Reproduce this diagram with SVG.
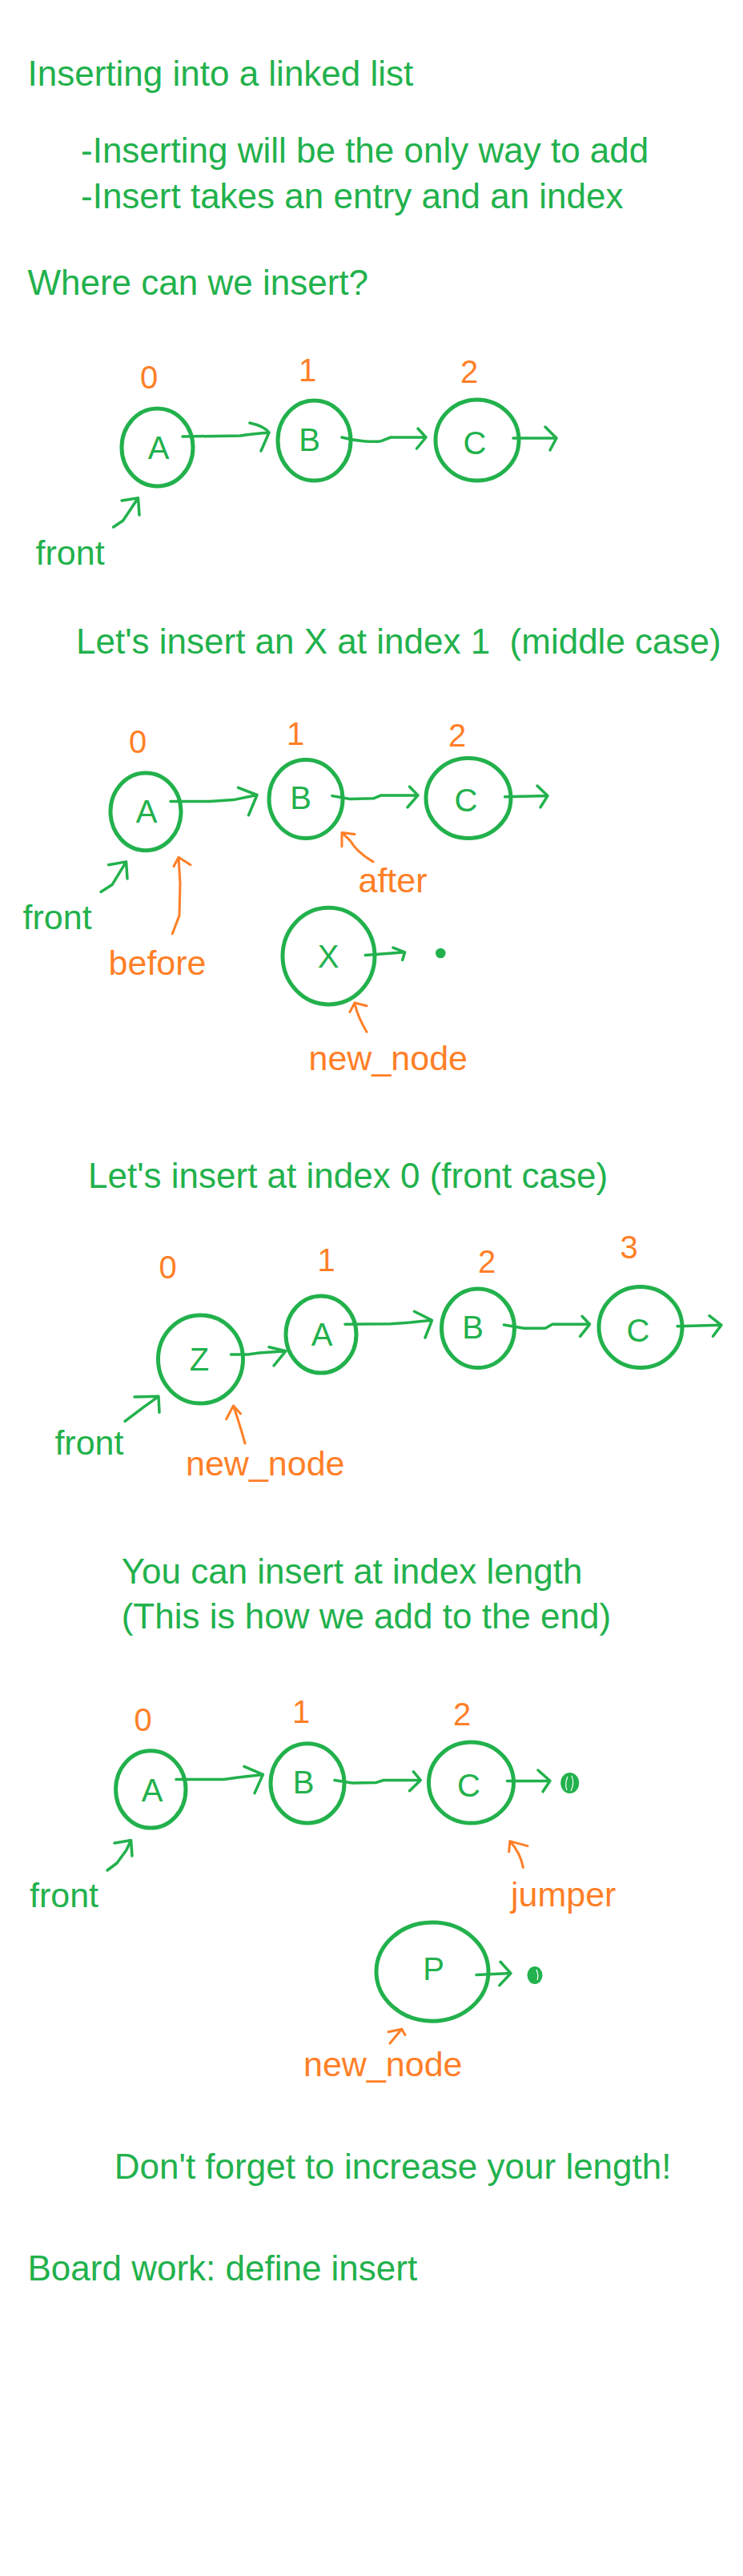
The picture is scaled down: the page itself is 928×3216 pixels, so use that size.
<svg xmlns="http://www.w3.org/2000/svg" width="928" height="3216" viewBox="0 0 928 3216">
<style>
text{font-family:"Liberation Sans",Arial,sans-serif}
.t{font-size:44px;fill:#22B14C}
.lg{font-size:43px;fill:#22B14C}
.lo{font-size:43px;fill:#FF7F27}
.idx{font-size:40px;fill:#FF7F27;text-anchor:middle}
.nl{font-size:40px;fill:#22B14C;text-anchor:middle}
.node ellipse{fill:none;stroke:#22B14C;stroke-width:5}
.g{fill:none;stroke:#22B14C;stroke-width:3.5;stroke-linecap:round;stroke-linejoin:round}
.o{fill:none;stroke:#FF7F27;stroke-width:3;stroke-linecap:round;stroke-linejoin:round}
.dot{fill:#22B14C}
.w{fill:none;stroke:#fff;stroke-width:1.2}
</style>
<rect width="928" height="3216" fill="#fff"/>

<g id="texts">
<text class="t" x="34.5" y="107">Inserting into a linked list</text>
<text class="t" x="101" y="203">-Inserting will be the only way to add</text>
<text class="t" x="101" y="260">-Insert takes an entry and an index</text>
<text class="t" x="34.5" y="368">Where can we insert?</text>
<text class="t" x="95" y="816" xml:space="preserve">Let's insert an X at index 1  (middle case)</text>
<text class="t" x="110" y="1483">Let's insert at index 0 (front case)</text>
<text class="t" x="151.7" y="1977">You can insert at index length</text>
<text class="t" x="151.7" y="2033">(This is how we add to the end)</text>
<text class="t" x="142.8" y="2720">Don't forget to increase your length!</text>
<text class="t" x="34.5" y="2847">Board work: define insert</text>
</g>

<!-- Section 1 -->
<g id="s1-A" class="node"><text class="idx" x="186" y="485">0</text><ellipse cx="196.5" cy="558.5" rx="44.5" ry="48.5"/><text class="nl" x="198" y="573">A</text></g>
<g id="s1-B" class="node"><text class="idx" x="384" y="476">1</text><ellipse cx="392.5" cy="550" rx="45.5" ry="50"/><text class="nl" x="386.5" y="563">B</text></g>
<g id="s1-C" class="node"><text class="idx" x="586" y="478">2</text><ellipse cx="596" cy="549.5" rx="52" ry="50.5"/><text class="nl" x="593" y="567">C</text></g>
<g id="s1-front"><text class="lg" x="44.6" y="705">front</text></g>

<!-- Section 2 -->
<g id="s2-A" class="node"><text class="idx" x="172" y="940">0</text><ellipse cx="182" cy="1013.3" rx="44" ry="48.4"/><text class="nl" x="183" y="1027">A</text></g>
<g id="s2-B" class="node"><text class="idx" x="369" y="930">1</text><ellipse cx="382" cy="997.5" rx="46" ry="49"/><text class="nl" x="375.5" y="1010">B</text></g>
<g id="s2-C" class="node"><text class="idx" x="571" y="932">2</text><ellipse cx="585" cy="996.5" rx="53" ry="50"/><text class="nl" x="582" y="1013">C</text></g>
<g id="s2-X" class="node"><ellipse cx="410.5" cy="1193.6" rx="57.5" ry="60.3"/><text class="nl" x="410" y="1208">X</text></g>
<g id="s2-null"><circle class="dot" cx="550.3" cy="1190" r="6.3"/></g>
<g id="s2-front"><text class="lg" x="28.6" y="1160">front</text></g>
<g id="s2-before"><text class="lo" x="135.6" y="1217">before</text></g>
<g id="s2-after"><text class="lo" x="447.5" y="1114">after</text></g>
<g id="s2-new_node"><text class="lo" x="385.5" y="1336">new_node</text></g>

<!-- Section 3 -->
<g id="s3-Z" class="node"><text class="idx" x="209.5" y="1596">0</text><ellipse cx="250.5" cy="1697" rx="53" ry="55"/><text class="nl" x="249" y="1711">Z</text></g>
<g id="s3-A" class="node"><text class="idx" x="407.5" y="1587">1</text><ellipse cx="401" cy="1666" rx="44" ry="48"/><text class="nl" x="402" y="1680">A</text></g>
<g id="s3-B" class="node"><text class="idx" x="608" y="1589">2</text><ellipse cx="597" cy="1658.3" rx="45.5" ry="49.3"/><text class="nl" x="590.5" y="1671">B</text></g>
<g id="s3-C" class="node"><text class="idx" x="785.7" y="1571">3</text><ellipse cx="800" cy="1657" rx="52" ry="50.5"/><text class="nl" x="797" y="1675">C</text></g>
<g id="s3-front"><text class="lg" x="68.4" y="1816">front</text></g>
<g id="s3-new_node"><text class="lo" x="232" y="1842">new_node</text></g>

<!-- Section 4 -->
<g id="s4-A" class="node"><text class="idx" x="178.5" y="2161">0</text><ellipse cx="188.3" cy="2233.9" rx="43.7" ry="48.2"/><text class="nl" x="190" y="2248.6">A</text></g>
<g id="s4-B" class="node"><text class="idx" x="376" y="2151">1</text><ellipse cx="384" cy="2226.4" rx="46" ry="49.6"/><text class="nl" x="379" y="2238.6">B</text></g>
<g id="s4-C" class="node"><text class="idx" x="577" y="2154">2</text><ellipse cx="588.5" cy="2225.6" rx="53" ry="50.5"/><text class="nl" x="585.5" y="2243">C</text></g>
<g id="s4-P" class="node"><ellipse cx="540" cy="2461.6" rx="70" ry="61.6"/><text class="nl" x="541.6" y="2472">P</text></g>
<g id="s4-null1"><ellipse class="dot" cx="711.7" cy="2226" rx="11.5" ry="13"/><path class="w" d="M709,2218 Q705,2228 708,2235 M714,2217 Q718,2226 713,2236"/></g>
<g id="s4-null2"><ellipse class="dot" cx="668" cy="2466" rx="9.5" ry="11"/><path class="w" d="M670,2459 Q673,2466 671,2472"/></g>
<g id="s4-front"><text class="lg" x="37" y="2381">front</text></g>
<g id="s4-jumper"><text class="lo" x="638" y="2380">jumper</text></g>
<g id="s4-new_node"><text class="lo" x="379" y="2592">new_node</text></g>

<g id="connectors">
<!-- section 1 -->
<path class="g" d="M228,545 L300,544 Q312,542 336,540 M312,528 Q330,532 336,540 L326,563"/>
<path class="g" d="M427,546 C445,551 465,552 476,550.7 L488,546 L532,546 M522,535 L532,546 L520.5,560"/>
<path class="g" d="M641,547 L695,546.7 M681,533 L695,547 L687,562"/>
<path class="g" d="M141.6,658 L153.6,650 L172.5,621.7 M152,625 L172.5,621.7 L174,643"/>
<!-- section 2 -->
<path class="g" d="M213,1000.5 L262,1000.5 L291.5,998.6 L321,992.5 M297.5,983.3 L321,992.5 L310.5,1017.7"/>
<path class="g" d="M415,993.6 L437,997.5 L467,996.7 L476,992.9 L522,992.9 M511.6,982.2 L522,992.9 L509,1007.8"/>
<path class="g" d="M630.6,994.8 L684,993.6 M671,981 L684,993.6 L675,1007.8"/>
<path class="g" d="M456.3,1192.6 L505.6,1188.8 M491,1183.1 L505.6,1188.8 L502.7,1198.4"/>
<path class="g" d="M126,1113.4 L140,1104.6 L157.6,1075.9 M135.6,1079.7 L157.6,1075.9 L159,1097"/>
<path class="o" d="M215.3,1165.8 L224,1142.9 L225,1102.7 L223,1070.2 M217,1081.7 L223,1070.2 L238,1079.7"/>
<path class="o" d="M466,1075.9 Q446,1064.4 437,1049.1 L427,1039.6 M427,1056.8 L427,1039.6 L443,1041.5"/>
<path class="o" d="M458,1288.3 Q447,1270 443,1253 M437,1263.4 L443,1252 L458,1255.8"/>
<!-- section 3 -->
<path class="g" d="M288.5,1691 L309.4,1691 L324,1689 L357,1686.7 M336,1681.7 L357,1686.7 L342,1705"/>
<path class="g" d="M431,1653.3 L488,1652.7 L512,1651 L539.5,1648.3 M517.5,1637.3 L539.5,1648.3 L531,1670"/>
<path class="g" d="M629.4,1654 L654.4,1658.3 L681,1658.3 L690,1653.3 L736.5,1653.3 M727,1643.3 L736.5,1653.3 L724.6,1668.3"/>
<path class="g" d="M846,1655.7 L901,1654.3 M886,1642.7 L901,1654.3 L890.5,1668.3"/>
<path class="g" d="M156,1774.3 L178.5,1757.3 L198,1743.3 M168,1744 L198,1743.3 L199,1763.3"/>
<path class="o" d="M306,1802 Q300,1780 291.5,1755 M282.6,1771.7 L291.5,1755 L300.5,1765"/>
<!-- section 4 -->
<path class="g" d="M220,2221.4 L279.6,2221.4 L297.5,2218.9 L328.4,2215.4 M305,2205.4 L328.4,2215.4 L318,2238.6"/>
<path class="g" d="M418,2222.5 L440,2226.1 L470,2225.4 L479,2222.5 L525.3,2222.5 M516.4,2211.8 L525.3,2222.5 L511.6,2235.7"/>
<path class="g" d="M633.5,2223.6 L687,2223.2 M672,2210 L687,2223.2 L678,2236.8"/>
<path class="g" d="M595,2465.4 L638,2463.6 M625,2449.3 L638,2463.6 L623.8,2478.6"/>
<path class="g" d="M134,2335 L146,2326 L157.7,2310 L163.6,2297.5 M143,2301 L163.6,2297.5 L165,2317"/>
<path class="o" d="M653.4,2331.4 Q650,2313.6 636.9,2298.6 M635.7,2311.8 L636.9,2298.6 L659,2304.6"/>
<path class="o" d="M487,2551 L501.8,2533.2 M485,2536.8 L501.8,2533.2 L506,2540.4"/>
</g>
</svg>
